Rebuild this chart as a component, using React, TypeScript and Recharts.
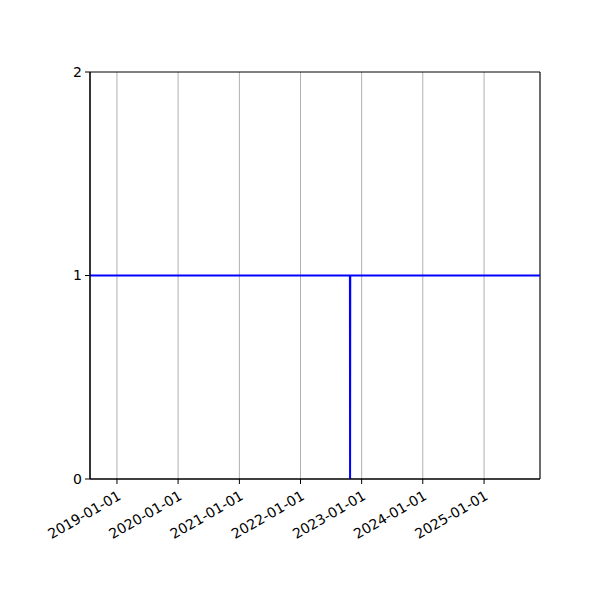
import React from "react";
import {
  CartesianGrid,
  Line,
  LineChart,
  ReferenceArea,
  XAxis,
  YAxis,
} from "recharts";

const dates = ["2018-07-24", "2022-10-23", "2022-10-24", "2022-10-25", "2025-12-01"];
const values = [1, 1, 0, 1, 1];
const xDomain = ["2018-07-24", "2025-12-01"];
const xTickDates = [
  "2019-01-01",
  "2020-01-01",
  "2021-01-01",
  "2022-01-01",
  "2023-01-01",
  "2024-01-01",
  "2025-01-01",
];
const yTicks = [0, 1, 2];

const toTime = (d: string) => Date.parse(d + "T00:00:00Z");

const data = dates.map((d, i) => ({ t: toTime(d), v: values[i] }));
const domain = xDomain.map(toTime);
const xTicks = xTickDates.map(toTime);

const fmt = (t: number) => new Date(t).toISOString().slice(0, 10);

const font = { fontFamily: "DejaVu Sans", fontSize: 14, fill: "#000" };

function App() {
  return (
    <div style={{ position: "absolute", left: 0, top: 0 }}>
      <LineChart
        width={600}
        height={600}
        data={data}
        margin={{ top: 72, right: 60, bottom: 0, left: 0 }}
      >
        <CartesianGrid horizontal={false} stroke="#b0b0b0" strokeWidth={1} />
        <XAxis
          dataKey="t"
          type="number"
          domain={domain}
          ticks={xTicks}
          tickFormatter={fmt}
          allowDataOverflow
          height={121}
          tickSize={5}
          tickMargin={6}
          angle={-30}
          textAnchor="end"
          stroke="#000"
          tick={font}
          interval={0}
        />
        <YAxis
          type="number"
          domain={[0, 2]}
          ticks={yTicks}
          width={90}
          tickSize={5}
          tickMargin={3}
          stroke="#000"
          tick={font}
        />
        <ReferenceArea
          x1={domain[0]}
          x2={domain[1]}
          y1={0}
          y2={2}
          fill="none"
          stroke="#000"
          strokeWidth={1}
        />
        <Line
          dataKey="v"
          type="linear"
          stroke="#0000ff"
          strokeWidth={2}
          dot={false}
          isAnimationActive={false}
        />
      </LineChart>
    </div>
  );
}

export default App;
